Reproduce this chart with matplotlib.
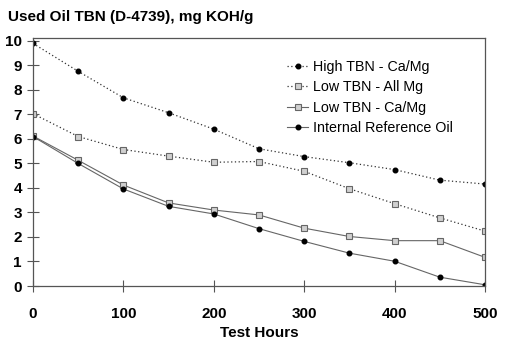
import matplotlib.pyplot as plt

plt.rcParams['font.family'] = ['Liberation Sans', 'DejaVu Sans']

hours = [0, 50, 100, 150, 200, 250, 300, 350, 400, 450, 500]
high_tbn_camg = [9.9, 8.76, 7.68, 7.07, 6.4, 5.6, 5.28, 5.03, 4.75, 4.32, 4.16]
low_tbn_allmg = [7.03, 6.1, 5.57, 5.3, 5.05, 5.08, 4.68, 3.97, 3.36, 2.78, 2.24]
low_tbn_camg = [6.12, 5.13, 4.12, 3.39, 3.1, 2.9, 2.36, 2.02, 1.85, 1.85, 1.17]
ref_oil = [6.1, 5.0, 3.96, 3.25, 2.94, 2.34, 1.82, 1.34, 1.01, 0.36, 0.05]

fig = plt.figure(figsize=(5.06, 3.48), dpi=100)
ax = fig.add_axes([33/506, 1 - 286/348, 452/506, 248/348])

line_c = '#666666'
ax.plot(hours, high_tbn_camg, color='#333333', ls=(0, (1, 2)), lw=0.9,
        marker='o', ms=3.3, mfc='black', mec='black', label='High TBN - Ca/Mg')
ax.plot(hours, low_tbn_allmg, color='#333333', ls=(0, (1, 2)), lw=0.9,
        marker='s', ms=4, mfc='#d0d0d0', mec='#666666', mew=0.8,
        label='Low TBN - All Mg')
ax.plot(hours, low_tbn_camg, color=line_c, ls='-', lw=0.8,
        marker='s', ms=4, mfc='#d0d0d0', mec='#666666', mew=0.8,
        label='Low TBN - Ca/Mg')
ax.plot(hours, ref_oil, color=line_c, ls='-', lw=0.8,
        marker='o', ms=3.3, mfc='black', mec='black',
        label='Internal Reference Oil')

ax.set_xlim(0, 500)
ax.set_ylim(0, 10.12)
ax.set_xticks(range(0, 501, 100))
ax.set_yticks(range(0, 11))
for s in ax.spines.values():
    s.set_color('#555555')
    s.set_linewidth(0.9)
ax.tick_params(axis='x', direction='inout', length=8, pad=11, color='#555555',
               labelsize=11)
ax.tick_params(axis='y', direction='inout', length=8, pad=4, color='#555555',
               labelsize=11)
for lab in ax.get_xticklabels() + ax.get_yticklabels():
    lab.set_fontweight('bold')

ax.set_xlabel('Test Hours', fontsize=11, fontweight='bold', labelpad=4)
fig.text(8/506, 1 - 17/348, 'Used Oil TBN (D-4739), mg KOH/g', fontsize=11,
         fontweight='bold', va='center', ha='left')

ax.legend(loc='upper left', bbox_to_anchor=(0.546, 0.94), frameon=False,
          fontsize=10.3, handlelength=1.5, handletextpad=0.3, labelspacing=0.45,
          borderpad=0)

fig.savefig('out.png', dpi=100)
